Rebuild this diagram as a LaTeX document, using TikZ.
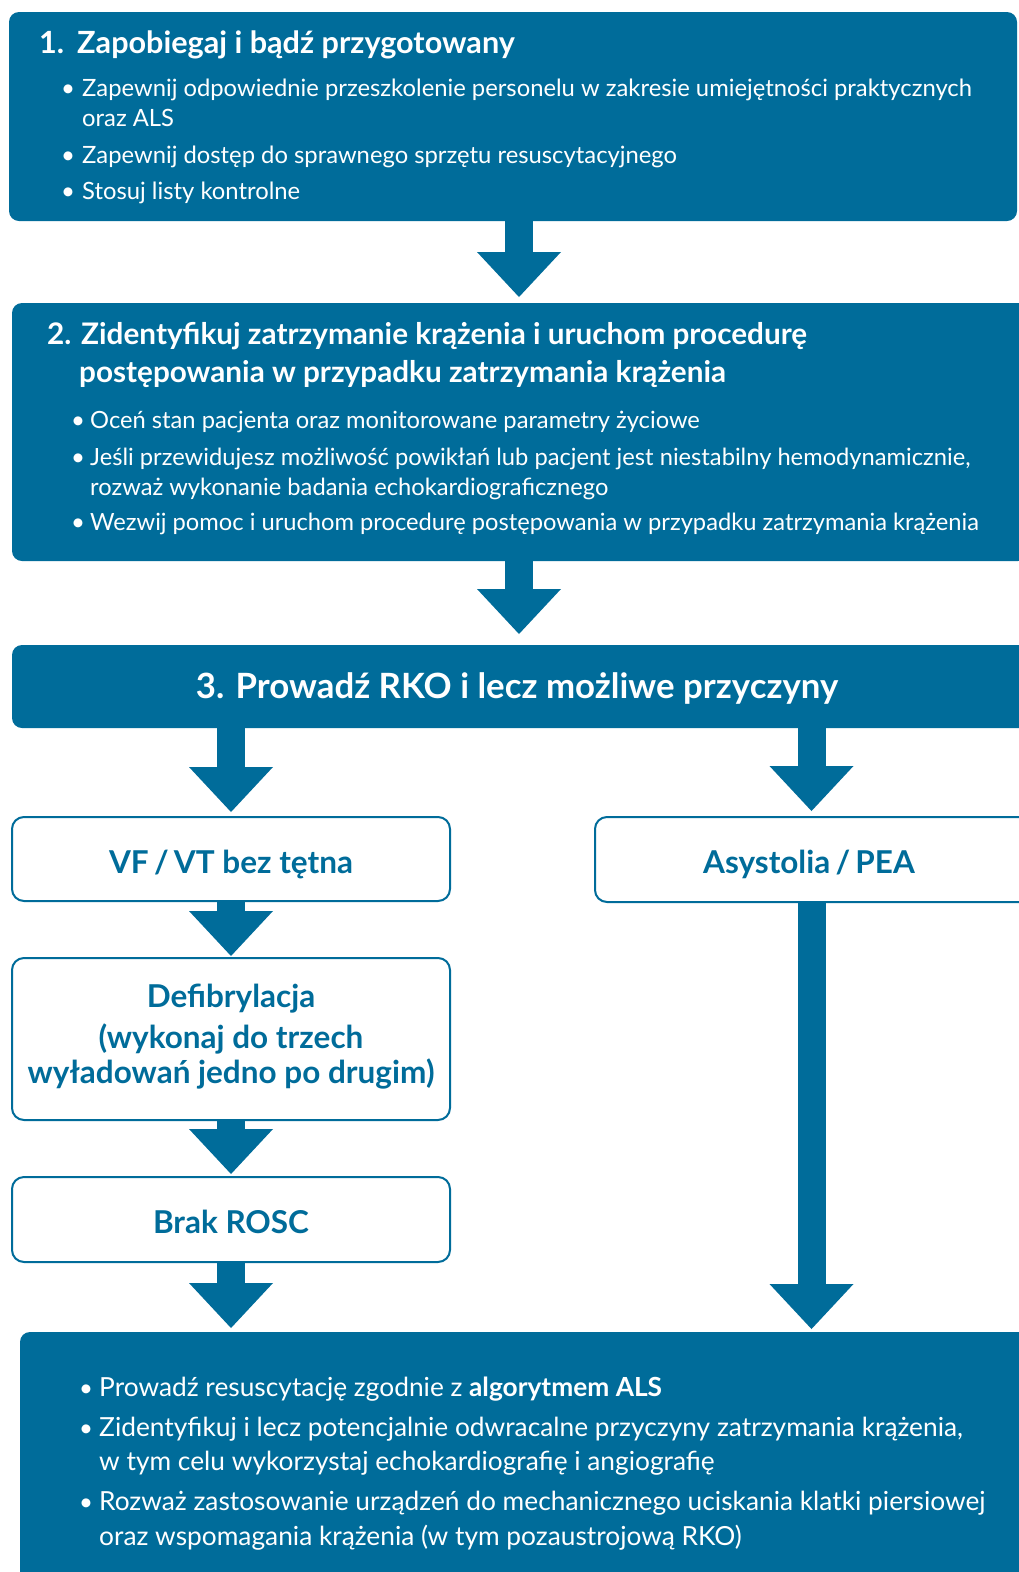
\documentclass[tikz,border=0pt]{standalone}
\usepackage{fontspec}
\setmainfont{Lato}
\usetikzlibrary{arrows.meta}
\definecolor{ercblue}{RGB}{0,108,154}

\begin{document}
\begin{tikzpicture}[x=1pt, y=-1pt,
  panel/.style={fill=ercblue, rounded corners=10pt, inner sep=0pt, outer sep=0pt, anchor=north west},
  outlined/.style={draw=ercblue, line width=2pt, fill=white, rounded corners=12pt, inner sep=0pt, outer sep=0pt, anchor=north west},
  flow/.style={draw=ercblue, line width=28pt, -{Triangle[width=84pt, length=45pt, line width=0pt]}},
  titletxt/.style={text=white, anchor=base west, inner sep=0pt, font=\fontsize{30.6}{34}\selectfont\bfseries},
  titletxtB/.style={text=white, anchor=base west, inner sep=0pt, font=\fontsize{29.7}{34}\selectfont\bfseries},
  bodyA/.style={text=white, anchor=base west, inner sep=0pt, font=\fontsize{23.8}{28}\selectfont},
  bodyB/.style={text=white, anchor=base west, inner sep=0pt, font=\fontsize{23.7}{28}\selectfont},
  bodyC/.style={text=white, anchor=base west, inner sep=0pt, font=\fontsize{26.3}{30}\selectfont},
  dot/.style={text=white, anchor=base, inner sep=0pt, font=\fontsize{24}{28}\selectfont},
  headtxt/.style={text=white, anchor=base, inner sep=0pt, font=\fontsize{34.8}{38}\selectfont\bfseries},
  boxtxt/.style={text=ercblue, anchor=base, inner sep=0pt, font=\fontsize{31.5}{36}\selectfont\bfseries}
]
\useasboundingbox (0,0) rectangle (1019,1572);
\fill[white] (0,0) rectangle (1019,1572);
\clip (0,0) rectangle (1019,1572);

% axes of the arrows
\coordinate (cM) at (519,0);
\coordinate (cL) at (231,0);
\coordinate (cR) at (811.5,0);

% step 1
\node[panel, minimum width=1008pt, minimum height=209pt] (p1) at (9,12) {};
\node[titletxt] (p1n) at (39,53) {1.};
\node[titletxt] (p1t) at (77,53) {Zapobiegaj i bądź przygotowany};
\node[dot] (p1d1) at (68,96) {•};
\node[bodyA] (p1a) at (82,96) {Zapewnij odpowiednie przeszkolenie personelu w zakresie umiejętności praktycznych};
\node[bodyA] (p1b) at (82,126) {oraz ALS};
\node[dot] (p1d2) at (68,163) {•};
\node[bodyA] (p1c) at (82,163) {Zapewnij dostęp do sprawnego sprzętu resuscytacyjnego};
\node[dot] (p1d3) at (68,199) {•};
\node[bodyA] (p1d) at (82,199) {Stosuj listy kontrolne};

% step 2
\node[panel, minimum width=1016pt, minimum height=258pt] (p2) at (12,303) {};
\node[titletxtB] (p2n) at (47,344) {2.};
\node[titletxtB] (p2t) at (81,344) {Zidentyfikuj zatrzymanie krążenia i uruchom procedurę};
\node[titletxtB] (p2u) at (79,382) {postępowania w przypadku zatrzymania krążenia};
\node[dot] (p2d1) at (78,428) {•};
\node[bodyB] (p2a) at (90,428) {Oceń stan pacjenta oraz monitorowane parametry życiowe};
\node[dot] (p2d2) at (78,465) {•};
\node[bodyB] (p2b) at (90,465) {Jeśli przewidujesz możliwość powikłań lub pacjent jest niestabilny hemodynamicznie,};
\node[bodyB] (p2c) at (90,495) {rozważ wykonanie badania echokardiograficznego};
\node[dot] (p2d3) at (78,530) {•};
\node[bodyB] (p2d) at (90,530) {Wezwij pomoc i uruchom procedurę postępowania w przypadku zatrzymania krążenia};

% step 3
\node[panel, minimum width=1030pt, minimum height=83pt] (hdr) at (12,645) {};
\node[headtxt] (hdrt) at (517,698) {3. Prowadź RKO i lecz możliwe przyczyny};

% shockable branch
\node[outlined, minimum width=438pt, minimum height=84pt] (vf) at (12,817) {};
\node[boxtxt] (vft) at (231,873) {VF\,/\,VT bez tętna};
\node[outlined, minimum width=438pt, minimum height=162pt] (defib) at (12,958) {};
\node[boxtxt] (defa) at (231,1007) {Defibrylacja};
\node[boxtxt] (defb) at (231,1048) {(wykonaj do trzech};
\node[boxtxt] (defc) at (231,1083) {wyładowań jedno po drugim)};
\node[outlined, minimum width=438pt, minimum height=85pt] (brak) at (12,1177) {};
\node[boxtxt] (brakt) at (231,1233) {Brak ROSC};

% non-shockable branch
\node[outlined, minimum width=440pt, minimum height=85pt] (asys) at (595,817) {};
\node[boxtxt] (asyst) at (809,873) {Asystolia\,/\,PEA};

% common treatment
\node[panel, minimum width=1030pt, minimum height=270pt] (fin) at (20,1332) {};
\node[dot] (fd1) at (86,1396) {•};
\node[bodyC] (fa) at (99,1396) {Prowadź resuscytację zgodnie z \textbf{algorytmem ALS}};
\node[dot] (fd2) at (86,1436) {•};
\node[bodyC] (fb) at (99,1436) {Zidentyfikuj i lecz potencjalnie odwracalne przyczyny zatrzymania krążenia,};
\node[bodyC] (fc) at (99,1470) {w tym celu wykorzystaj echokardiografię i angiografię};
\node[dot] (fd3) at (86,1510) {•};
\node[bodyC] (fdd) at (99,1510) {Rozważ zastosowanie urządzeń do mechanicznego uciskania klatki piersiowej};
\node[bodyC] (fe) at (99,1545) {oraz wspomagania krążenia (w tym pozaustrojową RKO)};

% connectors
\draw[flow, shorten >=6pt] (p1.south -| cM) -- (p2.north -| cM);
\draw[flow, shorten >=11pt] (p2.south -| cM) -- (hdr.north -| cM);
\draw[flow, shorten >=5pt] (hdr.south -| cL) -- (vf.north -| cL);
\draw[flow, shorten >=6pt] (hdr.south -| cR) -- (asys.north -| cR);
\draw[flow, shorten >=2pt] (vf.south -| cL) -- (defib.north -| cL);
\draw[flow, shorten >=3pt] (defib.south -| cL) -- (brak.north -| cL);
\draw[flow, shorten >=4pt] (brak.south -| cL) -- (fin.north -| cL);
\draw[flow, shorten >=3pt] (asys.south -| cR) -- (fin.north -| cR);
\end{tikzpicture}
\end{document}
